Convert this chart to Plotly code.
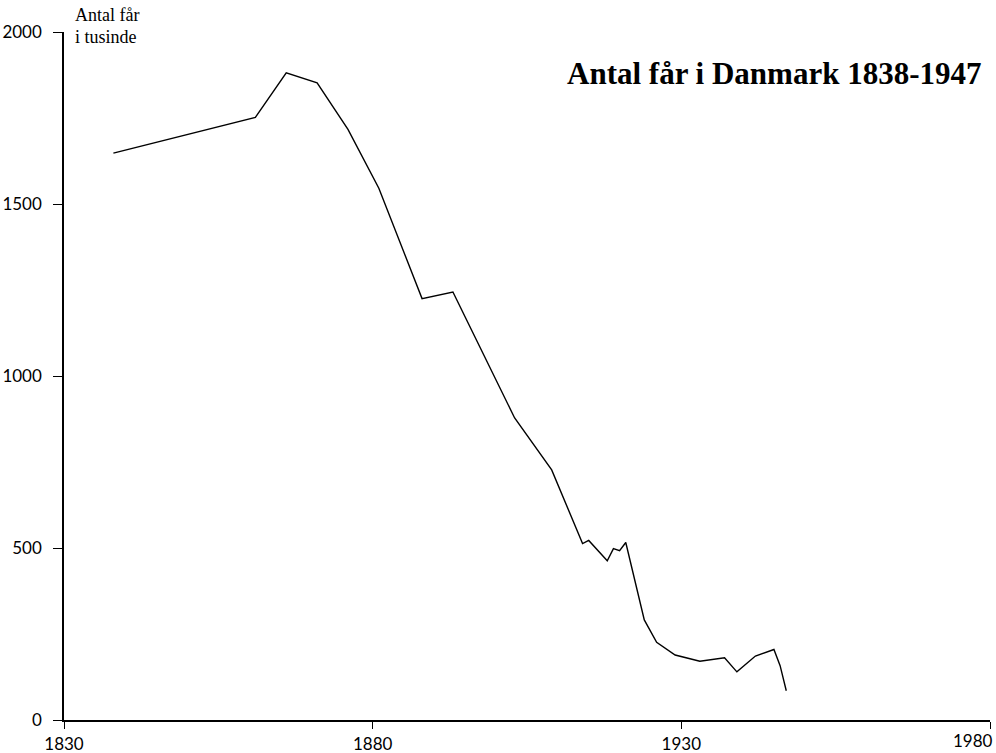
import plotly.graph_objects as go

years = [1838, 1861, 1866, 1871, 1876, 1881, 1888, 1893, 1898, 1903, 1909,
         1914, 1915, 1918, 1919, 1920, 1921, 1922, 1923, 1924, 1926, 1929,
         1933, 1937, 1939, 1942, 1945, 1946, 1947]
sheep = [1648, 1752, 1881, 1852, 1717, 1546, 1225, 1244, 1061, 878, 727,
         513, 522, 463, 498, 492, 516, 441, 365, 291, 226, 189,
         171, 181, 140, 186, 205, 158, 85]

x_ticks = [1830, 1880, 1930, 1980]
y_ticks = [0, 500, 1000, 1500, 2000]

fig = go.Figure()
fig.add_trace(go.Scatter(x=years, y=sheep, mode="lines",
                         line=dict(color="black", width=1.4),
                         showlegend=False, hoverinfo="x+y"))

tickfont = dict(family="Lato, Open Sans, sans-serif", size=17, color="black")
serif = "Liberation Serif, serif"
x_text = [str(v) if v != x_ticks[-1] else "" for v in x_ticks]
fig.update_layout(
    width=996, height=753,
    paper_bgcolor="white", plot_bgcolor="white",
    margin=dict(l=64, r=6, t=32, b=33),
    xaxis=dict(range=[1830, 1980], tickvals=x_ticks, ticktext=x_text,
               showgrid=False, zeroline=False, showline=True, linecolor="black",
               linewidth=1.5, ticks="outside", ticklen=7, tickcolor="black",
               tickwidth=1.3, tickfont=tickfont, ticklabelstandoff=1,
               automargin=False),
    yaxis=dict(range=[0, 2000], tickvals=y_ticks, ticktext=[str(v) for v in y_ticks],
               showgrid=False, zeroline=False, showline=True, linecolor="black",
               linewidth=1.5, ticks="outside", ticklen=9, tickcolor="black",
               tickwidth=1.3, tickfont=tickfont, ticklabelstandoff=8,
               automargin=False),
    annotations=[
        dict(text=str(x_ticks[-1]), xref="paper", yref="paper",
             x=1.0, y=0.0, xanchor="right", yanchor="top", xshift=5, yshift=-8,
             showarrow=False, font=tickfont),
        dict(text="Antal får", xref="paper", yref="paper",
             x=0.0, y=1.0, xanchor="left", yanchor="middle", xshift=9, yshift=17,
             showarrow=False, font=dict(family=serif, size=18, color="black")),
        dict(text="i tusinde", xref="paper", yref="paper",
             x=0.0, y=1.0, xanchor="left", yanchor="middle", xshift=9, yshift=-5,
             showarrow=False, font=dict(family=serif, size=18, color="black")),
        dict(text="<b>Antal får i Danmark 1838-1947</b>", xref="paper", yref="paper",
             x=1.0, y=1.0, xanchor="right", yanchor="middle", xshift=-7, yshift=-41,
             showarrow=False, font=dict(family=serif, size=31, color="black")),
    ],
)

fig.write_html("out.html", config={"displayModeBar": False},
               post_script="document.body.style.margin='0';document.body.style.overflow='hidden';")
